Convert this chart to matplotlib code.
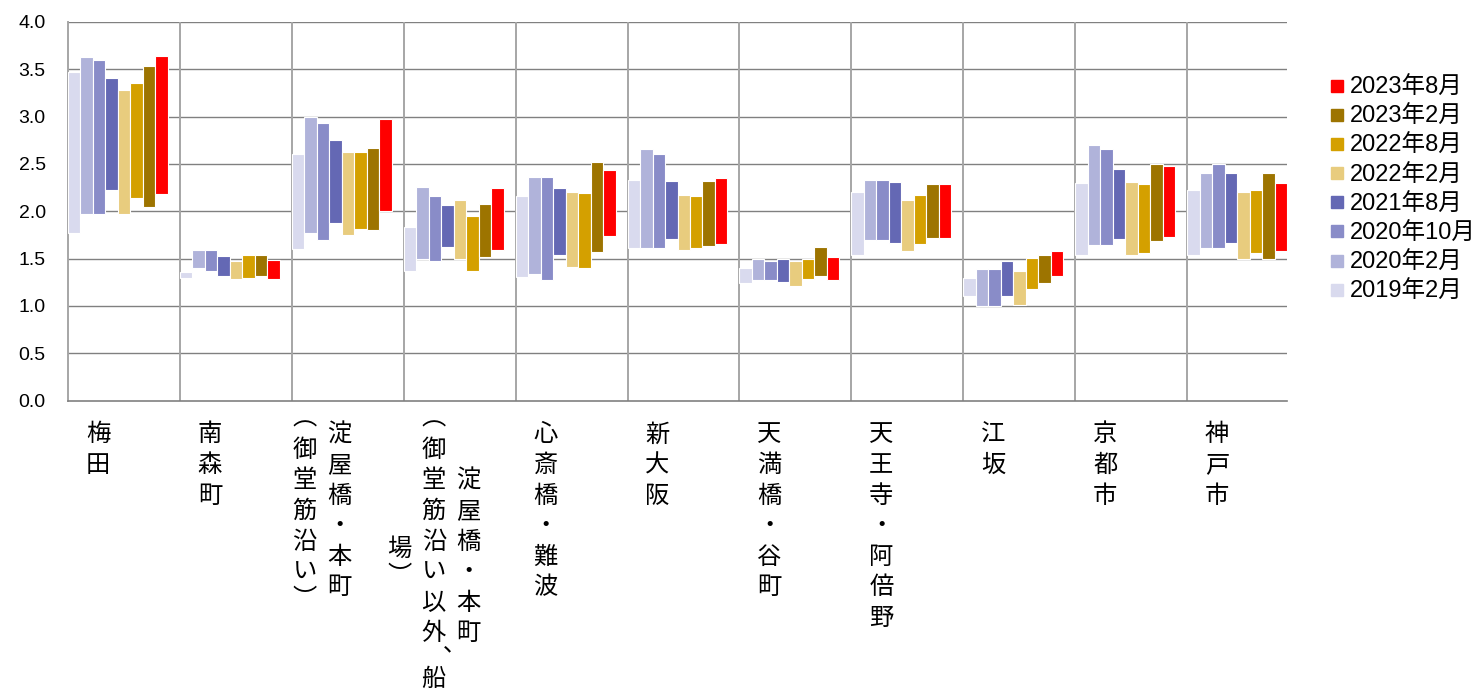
import matplotlib
matplotlib.use('Agg')
import matplotlib.pyplot as plt
from matplotlib.lines import Line2D
from matplotlib.textpath import TextPath
from matplotlib.font_manager import FontProperties
import numpy as np

plt.rcParams['font.family'] = ['Noto Sans CJK JP', 'DejaVu Sans']
LATIN_CJK = ['Liberation Sans', 'Noto Sans CJK JP']

# ---- data -------------------------------------------------------------
areas = ['梅田', '南森町', '淀屋橋・本町（御堂筋沿い）',
         '淀屋橋・本町（御堂筋沿い以外、船場）', '心斎橋・難波', '新大阪',
         '天満橋・谷町', '天王寺・阿倍野', '江坂', '京都市', '神戸市']

periods = ['2019年2月', '2020年2月', '2020年10月', '2021年8月',
           '2022年2月', '2022年8月', '2023年2月', '2023年8月']

colors = ['#D9DAEE', '#B0B3DA', '#898CC8', '#6468B4',
          '#E8CC7E', '#D4A000', '#9D7400', '#FF0000']

low_2019_02 = [1.77, 1.30, 1.60, 1.37, 1.31, 1.61, 1.24, 1.54, 1.11, 1.54, 1.54]
high_2019_02 = [3.47, 1.36, 2.60, 1.83, 2.16, 2.33, 1.40, 2.20, 1.30, 2.30, 2.23]
low_2020_02 = [1.97, 1.40, 1.77, 1.50, 1.34, 1.61, 1.27, 1.70, 1.00, 1.64, 1.61]
high_2020_02 = [3.63, 1.59, 3.00, 2.26, 2.36, 2.66, 1.50, 2.33, 1.39, 2.70, 2.40]
low_2020_10 = [1.97, 1.37, 1.70, 1.47, 1.27, 1.61, 1.27, 1.70, 1.00, 1.64, 1.61]
high_2020_10 = [3.60, 1.59, 2.93, 2.16, 2.36, 2.60, 1.47, 2.33, 1.39, 2.66, 2.50]
low_2021_08 = [2.22, 1.32, 1.88, 1.62, 1.54, 1.71, 1.25, 1.67, 1.11, 1.71, 1.66]
high_2021_08 = [3.41, 1.53, 2.75, 2.07, 2.25, 2.32, 1.50, 2.31, 1.47, 2.45, 2.40]
low_2022_02 = [1.97, 1.28, 1.75, 1.50, 1.41, 1.59, 1.21, 1.58, 1.01, 1.54, 1.50]
high_2022_02 = [3.28, 1.47, 2.63, 2.12, 2.20, 2.17, 1.48, 2.12, 1.37, 2.31, 2.20]
low_2022_08 = [2.14, 1.30, 1.81, 1.37, 1.40, 1.61, 1.29, 1.65, 1.18, 1.56, 1.56]
high_2022_08 = [3.36, 1.54, 2.63, 1.95, 2.19, 2.16, 1.50, 2.17, 1.51, 2.29, 2.22]
low_2023_02 = [2.05, 1.32, 1.80, 1.52, 1.57, 1.63, 1.32, 1.72, 1.24, 1.69, 1.50]
high_2023_02 = [3.53, 1.54, 2.67, 2.08, 2.52, 2.32, 1.62, 2.29, 1.54, 2.50, 2.40]
low_2023_08 = [2.18, 1.29, 2.00, 1.59, 1.74, 1.65, 1.27, 1.72, 1.32, 1.73, 1.58]
high_2023_08 = [3.64, 1.49, 2.97, 2.25, 2.44, 2.35, 1.52, 2.29, 1.58, 2.48, 2.30]

lows = [low_2019_02, low_2020_02, low_2020_10, low_2021_08,
        low_2022_02, low_2022_08, low_2023_02, low_2023_08]
highs = [high_2019_02, high_2020_02, high_2020_10, high_2021_08,
         high_2022_02, high_2022_08, high_2023_02, high_2023_08]

y_ticks = [0.0, 0.5, 1.0, 1.5, 2.0, 2.5, 3.0, 3.5, 4.0]

# ---- figure -------------------------------------------------------------
W, H = 1482, 694
fig = plt.figure(figsize=(W / 100, H / 100), dpi=100)
ax = fig.add_axes([68 / W, 1 - 400.7 / H, (1287 - 68) / W, (400.7 - 21.9) / H])

n_areas = len(areas)
n_series = len(periods)
slot = 0.893 / n_series
x0 = np.arange(n_areas)

for j, (lo, hi, c, lab) in enumerate(zip(lows, highs, colors, periods)):
    lo = np.asarray(lo)
    hi = np.asarray(hi)
    ax.bar(x0 + j * slot, hi - lo, bottom=lo, width=slot, align='edge',
           color=c, edgecolor='white', linewidth=0.8, label=lab, zorder=3)

ax.set_xlim(0, n_areas - 1 + n_series * slot)
ax.set_ylim(0, 4)
ax.set_yticks(y_ticks)
ax.set_yticklabels([f'{v:.1f}' for v in y_ticks], fontsize=14,
                   family=LATIN_CJK)
ax.tick_params(axis='y', length=0, pad=16)
ax.set_xticks([])

for v in y_ticks[1:]:
    ax.axhline(v, color='#808080', lw=1.0, zorder=1)
for i in range(1, n_areas):
    ax.axvline(i, color='#a6a6a6', lw=1.4, zorder=1)

for s in ['top', 'right']:
    ax.spines[s].set_visible(False)
ax.spines['left'].set_color('#a6a6a6')
ax.spines['left'].set_linewidth(1.4)
ax.spines['bottom'].set_color('#808080')
ax.spines['bottom'].set_linewidth(1.2)

# ---- vertical (tategaki) category labels -------------------------------
PT = 72 / 100          # points per pixel
pitch = 30.6           # px per character cell
col_gap = 34.5         # px between columns
block_dx = 30.0        # px from category start to label block centre
block_top = 16.0       # px below the axis
label_fs = 17.5
capacity = 9.0
label_font = FontProperties(family=['Noto Sans CJK JP'], size=label_fs)

# vertical presentation forms for brackets / comma, which take half a cell;
# value = (glyph, ink centre below half-cell top in px, extra x shift in px)
half_forms = {'（': ('︵', 7.5, 0.0),
              '）': ('︶', 3.5, 0.0),
              '、': ('︑', 2.5, 6.0)}


def cell_h(ch):
    return 0.5 if ch in half_forms else 1.0


def split_columns(text):
    pieces = []
    cur = ''
    for ch in text:
        if ch == '（' and cur:
            pieces.append(cur)
            cur = ''
        cur += ch
    pieces.append(cur)
    cols = []
    for p in pieces:
        col, h = '', 0.0
        for ch in p:
            if h + cell_h(ch) > capacity and col:
                cols.append(col)
                col, h = '', 0.0
            col += ch
            h += cell_h(ch)
        cols.append(col)
    return cols


def ink_centre(glyph):
    ext = TextPath((0, 0), glyph, size=label_fs, prop=label_font).get_extents()
    return (ext.y0 + ext.y1) / 2


for i, name in enumerate(areas):
    cols = split_columns(name)
    heights = [sum(cell_h(ch) for ch in c) for c in cols]
    hmax = max(heights)
    ncol = len(cols)
    for ci, (col, hc) in enumerate(zip(cols, heights)):
        cx = block_dx + ((ncol - 1) / 2 - ci) * col_gap
        y = block_top + (hmax - hc) / 2 * pitch
        for ch in col:
            h = cell_h(ch) * pitch
            if ch in half_forms:
                g, dy, dx = half_forms[ch]
                base = (y + dy) * PT + ink_centre(g)
                ax.annotate(g, xy=(i, 0), xycoords='data',
                            xytext=((cx + dx) * PT, -base),
                            textcoords='offset points', ha='center',
                            va='baseline', fontproperties=label_font,
                            annotation_clip=False)
            else:
                ax.annotate(ch, xy=(i, 0), xycoords='data',
                            xytext=(cx * PT, -(y + 24.75) * PT),
                            textcoords='offset points', ha='center',
                            va='baseline', fontproperties=label_font,
                            annotation_clip=False)
            y += h

# ---- legend ---------------------------------------------------------------
handles = [Line2D([0], [0], marker='s', ls='none', markersize=8,
                  markerfacecolor=c, markeredgecolor=c) for c in colors]
fig.legend(handles[::-1], periods[::-1], loc='center left',
           bbox_to_anchor=(1331 / W, 1 - 190 / H), frameon=False,
           prop=FontProperties(family=LATIN_CJK, size=17),
           handlelength=0.5, handletextpad=0.3,
           labelspacing=0.3, borderpad=0, borderaxespad=0)

fig.savefig('out.png', dpi=100)
